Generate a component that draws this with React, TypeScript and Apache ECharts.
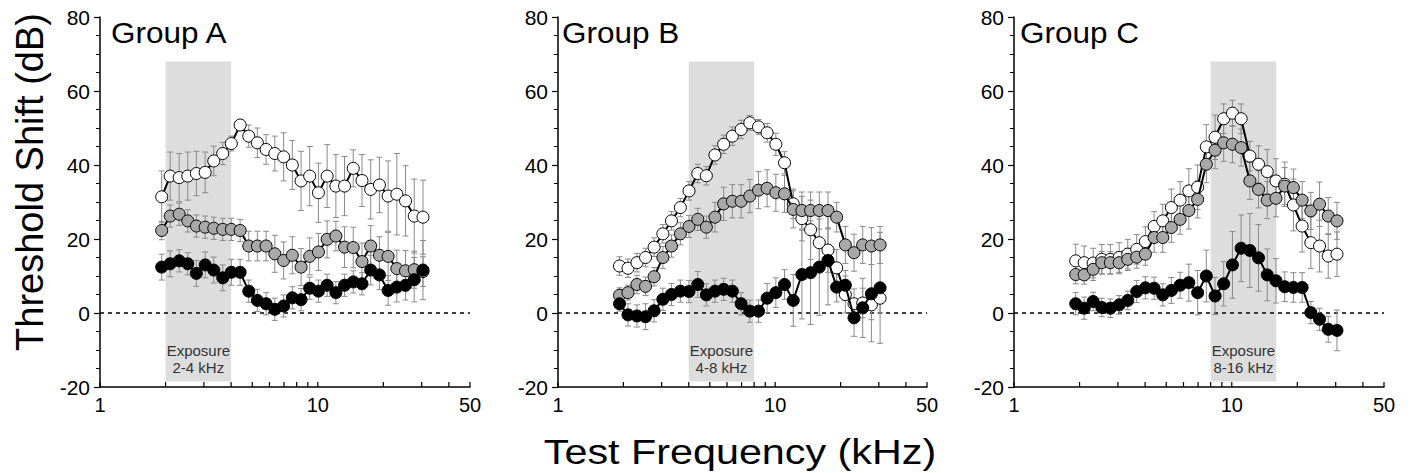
import React, { useEffect, useRef } from "react";
import * as echarts from "echarts";

// Test frequencies (kHz), shared by all three groups
const FREQ = [1.92, 2.1, 2.31, 2.53, 2.77, 3.04, 3.33, 3.66, 4.01, 4.4, 4.82, 5.28, 5.79, 6.35, 6.97, 7.64, 8.38, 9.18, 10.07, 11.04, 12.11, 13.27, 14.55, 15.96, 17.5, 19.19, 21.04, 23.07, 25.29, 27.73, 30.41];

// Group A
const A_WHITE = [31.4, 37.0, 36.6, 37.0, 37.7, 38.0, 41.1, 43.1, 45.8, 50.8, 47.8, 46.0, 44.2, 43.1, 42.2, 40.0, 35.7, 37.0, 32.5, 37.0, 34.3, 34.3, 39.1, 35.8, 33.4, 34.6, 31.6, 32.1, 30.3, 26.2, 25.9];
const A_WHITE_ERR = [7, 6.5, 6.5, 6.5, 6, 5.5, 4, 3, 2, 1.5, 3, 4, 4, 4.7, 6.5, 6.6, 8, 8, 8, 8.5, 8.5, 8, 5, 7, 8, 7.5, 9.5, 11, 9.5, 10, 10];
const A_GRAY = [22.3, 26.2, 26.7, 24.9, 23.5, 23.2, 22.9, 22.6, 22.6, 22.3, 18.1, 18.1, 18.1, 16.0, 14.2, 15.6, 12.4, 15.3, 16.5, 19.9, 20.8, 17.8, 17.7, 13.9, 18.1, 15.6, 15.3, 12.0, 11.4, 11.7, 11.2];
const A_GRAY_ERR = [2.5, 3, 3, 3, 3, 3, 3, 3, 3, 3, 4, 4, 4, 5, 5, 5, 5, 5, 5, 5, 4, 5.5, 5.5, 5, 5.5, 5, 6.5, 5, 5.5, 5, 4];
const A_BLACK = [12.4, 13.3, 14.1, 13.3, 10.7, 13.0, 11.6, 9.5, 11.0, 11.0, 5.9, 3.4, 2.5, 1.0, 1.9, 4.1, 3.6, 6.7, 5.9, 7.5, 5.5, 7.5, 8.4, 7.9, 11.6, 10.3, 6.1, 7.0, 7.5, 9.0, 11.6];
const A_BLACK_ERR = [3.5, 3.5, 3, 3, 3.5, 3.5, 3.5, 3.5, 3.5, 3.5, 3, 3, 3, 3, 3, 3, 3, 3, 3, 3, 3, 3, 3, 3, 4, 4, 4, 4, 4, 6, 8];

// Group B
const B_WHITE = [12.7, 12.1, 13.6, 15.0, 17.8, 21.4, 24.9, 28.5, 33.0, 37.7, 37.1, 42.7, 45.6, 47.8, 49.6, 51.4, 50.3, 48.7, 45.6, 40.6, 29.5, 25.5, 22.5, 19.0, 17.0, 12.2, 5.0, 2.5, 2.7, 2.2, 4.0];
const B_WHITE_ERR = [2.5, 2.5, 2.5, 2.5, 2.5, 2.5, 2.5, 2.5, 2.5, 2.5, 2.5, 2.5, 2.5, 2.5, 2.5, 2, 2, 2.5, 3, 3, 4, 6, 8, 8, 6, 5, 5, 4, 4, 4, 4];
const B_GRAY = [4.8, 5.5, 7.7, 7.2, 9.8, 15.0, 18.1, 21.4, 23.4, 25.3, 23.2, 25.9, 29.5, 30.2, 30.2, 31.6, 33.2, 33.7, 32.5, 32.2, 28.0, 27.7, 27.7, 27.7, 27.7, 25.9, 18.4, 16.3, 18.4, 18.1, 18.4];
const B_GRAY_ERR = [2, 2, 2.5, 2.5, 2.5, 3, 3, 3, 3, 3, 3, 4, 4.5, 4.5, 4.5, 4.5, 5, 5, 5, 5, 5, 5, 5, 5, 5, 4, 5, 5, 5, 5, 5];
const B_BLACK = [2.5, -0.5, -0.8, -1.0, 0.6, 3.7, 5.0, 5.9, 5.8, 7.7, 4.9, 5.9, 6.4, 5.9, 2.5, 0.5, 0.5, 4.0, 5.5, 7.7, 3.4, 10.4, 10.9, 12.4, 14.2, 7.0, 7.5, -1.3, 1.4, 5.2, 6.8];
const B_BLACK_ERR = [2, 3, 3, 3.5, 3, 3, 3, 3, 3, 3.5, 3, 3, 3, 3, 3, 3, 3, 4, 4, 4, 7, 12, 14, 13, 12, 4, 4, 5, 8, 13, 15];

// Group C
const C_WHITE = [14.1, 13.6, 13.5, 14.5, 14.5, 15.0, 15.9, 17.2, 19.3, 23.4, 24.9, 28.5, 30.5, 33.0, 34.0, 44.9, 47.5, 52.5, 54.0, 52.5, 42.4, 40.2, 38.2, 35.7, 34.8, 29.2, 23.5, 19.0, 18.1, 15.4, 15.9];
const C_WHITE_ERR = [4.5, 4.5, 4, 4, 4, 4, 4, 4, 4, 4, 4.5, 5, 5, 6, 6, 6, 6, 4, 3.5, 4, 4, 5, 6, 6, 6, 7, 7, 7, 7, 6, 6];
const C_GRAY = [10.4, 10.3, 11.8, 13.6, 13.6, 13.6, 14.5, 15.1, 15.9, 20.4, 20.4, 23.1, 25.3, 27.7, 30.7, 40.2, 44.0, 46.0, 45.6, 44.7, 35.7, 33.4, 30.5, 31.0, 34.3, 33.9, 30.5, 27.6, 29.4, 26.2, 24.9];
const C_GRAY_ERR = [2.5, 2.5, 3, 3, 3, 3, 3, 3, 3, 4, 4, 4, 4, 5, 5, 5, 5, 5, 5, 5, 5, 5, 5, 5, 5, 5, 5, 5, 6, 5, 5];
const C_BLACK = [2.5, 1.3, 3.1, 1.5, 1.3, 2.2, 3.4, 5.8, 6.8, 6.7, 4.9, 6.1, 7.5, 8.2, 5.5, 10.0, 4.6, 7.9, 13.0, 17.5, 16.9, 14.9, 10.3, 8.7, 7.1, 6.9, 6.9, 0.1, -1.7, -4.4, -4.7];
const C_BLACK_ERR = [3, 3, 2.5, 2.5, 2.5, 2.5, 2.5, 3, 3, 3, 3, 3.5, 3.5, 5, 6, 7, 5, 6, 9, 9, 10, 9, 7, 6, 4, 4, 4, 3, 3, 3.5, 5.5];

const GROUP_NAMES = ["Group A", "Group B", "Group C"];
const BAND_LABELS = ["Exposure\n2-4 kHz", "Exposure\n4-8 kHz", "Exposure\n8-16 kHz"];
const BANDS = [
  [2, 4],
  [4, 8],
  [8, 16],
];
const BAND_Y = [-18.5, 68];
const X_TICKS = [1, 2, 3, 4, 5, 6, 7, 8, 9, 10, 20, 30, 40, 50];
const X_MIN = 1;
const X_MAX = 50;
const Y_MIN = -20;
const Y_MAX = 80;
const Y_STEP = 20;

const PANEL_DATA = [
  { white: A_WHITE, whiteErr: A_WHITE_ERR, gray: A_GRAY, grayErr: A_GRAY_ERR, black: A_BLACK, blackErr: A_BLACK_ERR },
  { white: B_WHITE, whiteErr: B_WHITE_ERR, gray: B_GRAY, grayErr: B_GRAY_ERR, black: B_BLACK, blackErr: B_BLACK_ERR },
  { white: C_WHITE, whiteErr: C_WHITE_ERR, gray: C_GRAY, grayErr: C_GRAY_ERR, black: C_BLACK, blackErr: C_BLACK_ERR },
];

// layout
const GRID_LEFTS = [100, 558, 1014];
const GRID_WIDTHS = [370, 369, 370];
const GRID_TOP = 17;
const GRID_HEIGHT = 370;
const GROUP_LABEL_X = [111, 562, 1020];

const FONT = '"Liberation Sans", Arial, Helvetica, sans-serif';
const ERR_COLOR = "#8a8a8a";
const BAND_COLOR = "#dddddd";
const GRAY_FILL = "#a8a8a8";

function errRender(params: any, api: any) {
  const x = api.value(0);
  const top = api.coord([x, api.value(2)]);
  const bot = api.coord([x, api.value(1)]);
  const cw = 3;
  const st = { stroke: ERR_COLOR, lineWidth: 1 };
  return {
    type: "group",
    children: [
      { type: "line", shape: { x1: top[0], y1: top[1], x2: bot[0], y2: bot[1] }, style: st },
      { type: "line", shape: { x1: top[0] - cw, y1: top[1], x2: top[0] + cw, y2: top[1] }, style: st },
      { type: "line", shape: { x1: bot[0] - cw, y1: bot[1], x2: bot[0] + cw, y2: bot[1] }, style: st },
    ],
  };
}

function tickRender(params: any, api: any) {
  const p = api.coord([api.value(0), api.value(1)]);
  return {
    type: "line",
    shape: { x1: p[0], y1: p[1], x2: p[0], y2: p[1] - 5 },
    style: { stroke: "#000", lineWidth: 1.2 },
  };
}

function makeDecorRender(label: string) {
  return function (params: any, api: any) {
    const p1 = api.coord([api.value(0), api.value(3)]);
    const p2 = api.coord([api.value(1), api.value(2)]);
    const z0 = api.coord([X_MIN, 0]);
    const z1 = api.coord([X_MAX, 0]);
    return {
      type: "group",
      children: [
        {
          type: "rect",
          shape: { x: p1[0], y: p1[1], width: p2[0] - p1[0], height: p2[1] - p1[1] },
          style: { fill: BAND_COLOR },
        },
        {
          type: "text",
          x: (p1[0] + p2[0]) / 2,
          y: p2[1] - 22,
          style: {
            text: label,
            fill: "#333",
            fontSize: 15,
            lineHeight: 17,
            fontFamily: FONT,
            align: "center",
            verticalAlign: "middle",
            textAlign: "center",
            textVerticalAlign: "middle",
          },
        },
        {
          type: "line",
          shape: { x1: z0[0], y1: z0[1], x2: z1[0], y2: z1[1] },
          style: { stroke: "#000", lineWidth: 1.3, lineDash: [4, 4] },
        },
      ],
    };
  };
}

function lineSeries(i: number, values: number[], fill: string, z: number) {
  return {
    type: "line",
    xAxisIndex: i,
    yAxisIndex: i,
    data: FREQ.map((f, k) => [f, values[k]]),
    symbol: "circle",
    symbolSize: 12,
    showAllSymbol: true,
    z,
    itemStyle: { color: fill, borderColor: "#000", borderWidth: 1, opacity: 1 },
    lineStyle: { color: "#000", width: 2 },
    emphasis: { disabled: true },
    silent: true,
  };
}

export default function App() {
  const ref = useRef<HTMLDivElement>(null);

  useEffect(() => {
    if (!ref.current) return;
    const chart = echarts.init(ref.current, undefined, { renderer: "svg" });

    const grids: any[] = [];
    const xAxes: any[] = [];
    const yAxes: any[] = [];
    const series: any[] = [];
    const graphics: any[] = [];

    for (let i = 0; i < 3; i++) {
      grids.push({
        left: GRID_LEFTS[i],
        top: GRID_TOP,
        width: GRID_WIDTHS[i],
        height: GRID_HEIGHT,
        containLabel: false,
        outerBoundsMode: "none",
      });
      xAxes.push({
        type: "log",
        logBase: 10,
        gridIndex: i,
        min: X_MIN,
        max: X_MAX,
        axisLine: { show: true, onZero: false, lineStyle: { color: "#000", width: 1.5 } },
        axisTick: { show: false },
        minorTick: { show: false },
        splitLine: { show: false },
        axisLabel: { color: "#000", fontSize: 20, fontFamily: FONT, margin: 8 },
      });
      yAxes.push({
        type: "value",
        gridIndex: i,
        min: Y_MIN,
        max: Y_MAX,
        interval: Y_STEP,
        axisLine: { show: true, onZero: false, lineStyle: { color: "#000", width: 1.5 } },
        axisTick: { show: true, inside: false, length: 6, lineStyle: { color: "#000", width: 1.2 } },
        minorTick: { show: true, splitNumber: 4, length: 4, lineStyle: { color: "#000", width: 1 } },
        splitLine: { show: false },
        minorSplitLine: { show: false },
        axisLabel: { color: "#000", fontSize: 21, fontFamily: FONT, margin: 10 },
      });

      const d = PANEL_DATA[i];
      series.push({
        type: "custom",
        xAxisIndex: i,
        yAxisIndex: i,
        z: 1,
        silent: true,
        clip: false,
        data: [[BANDS[i][0], BANDS[i][1], BAND_Y[0], BAND_Y[1]]],
        encode: { x: [0, 1], y: [2, 3] },
        renderItem: makeDecorRender(BAND_LABELS[i]),
      });
      const errData: number[][] = [];
      const groups = [
        [d.white, d.whiteErr],
        [d.gray, d.grayErr],
        [d.black, d.blackErr],
      ];
      groups.forEach(([vals, errs]) => {
        FREQ.forEach((f, k) => errData.push([f, vals[k] - errs[k], vals[k] + errs[k]]));
      });
      series.push({
        type: "custom",
        xAxisIndex: i,
        yAxisIndex: i,
        z: 2,
        silent: true,
        clip: false,
        data: errData,
        encode: { x: 0, y: [1, 2] },
        renderItem: errRender,
      });
      series.push(lineSeries(i, d.white, "#ffffff", 3));
      series.push(lineSeries(i, d.gray, GRAY_FILL, 4));
      series.push(lineSeries(i, d.black, "#000000", 5));
      series.push({
        type: "custom",
        xAxisIndex: i,
        yAxisIndex: i,
        z: 6,
        silent: true,
        clip: false,
        data: X_TICKS.map((v) => [v, Y_MIN]),
        encode: { x: 0, y: 1 },
        renderItem: tickRender,
      });

      graphics.push({
        type: "text",
        x: GROUP_LABEL_X[i],
        y: 33,
        scaleX: 1.05,
        style: {
          text: GROUP_NAMES[i],
          fill: "#000",
          fontSize: 30,
          fontFamily: FONT,
          align: "left",
          verticalAlign: "middle",
          textAlign: "left",
          textVerticalAlign: "middle",
        },
      });
    }

    graphics.push({
      type: "text",
      x: 30,
      y: 182,
      rotation: Math.PI / 2,
      style: {
        text: "Threshold Shift (dB)",
        fill: "#000",
        fontSize: 38,
        fontFamily: FONT,
        align: "center",
        verticalAlign: "middle",
        textAlign: "center",
        textVerticalAlign: "middle",
      },
    });
    graphics.push({
      type: "text",
      x: 740,
      y: 452,
      scaleX: 1.18,
      style: {
        text: "Test Frequency (kHz)",
        fill: "#000",
        fontSize: 35,
        fontFamily: FONT,
        align: "center",
        verticalAlign: "middle",
        textAlign: "center",
        textVerticalAlign: "middle",
      },
    });

    chart.setOption({
      animation: false,
      backgroundColor: "#ffffff",
      grid: grids,
      xAxis: xAxes,
      yAxis: yAxes,
      series,
      graphic: { elements: graphics },
    });

    return () => {
      chart.dispose();
    };
  }, []);

  return (
    <div
      ref={ref}
      style={{ position: "fixed", left: 0, top: 0, width: 1410, height: 473, background: "#fff" }}
    />
  );
}
